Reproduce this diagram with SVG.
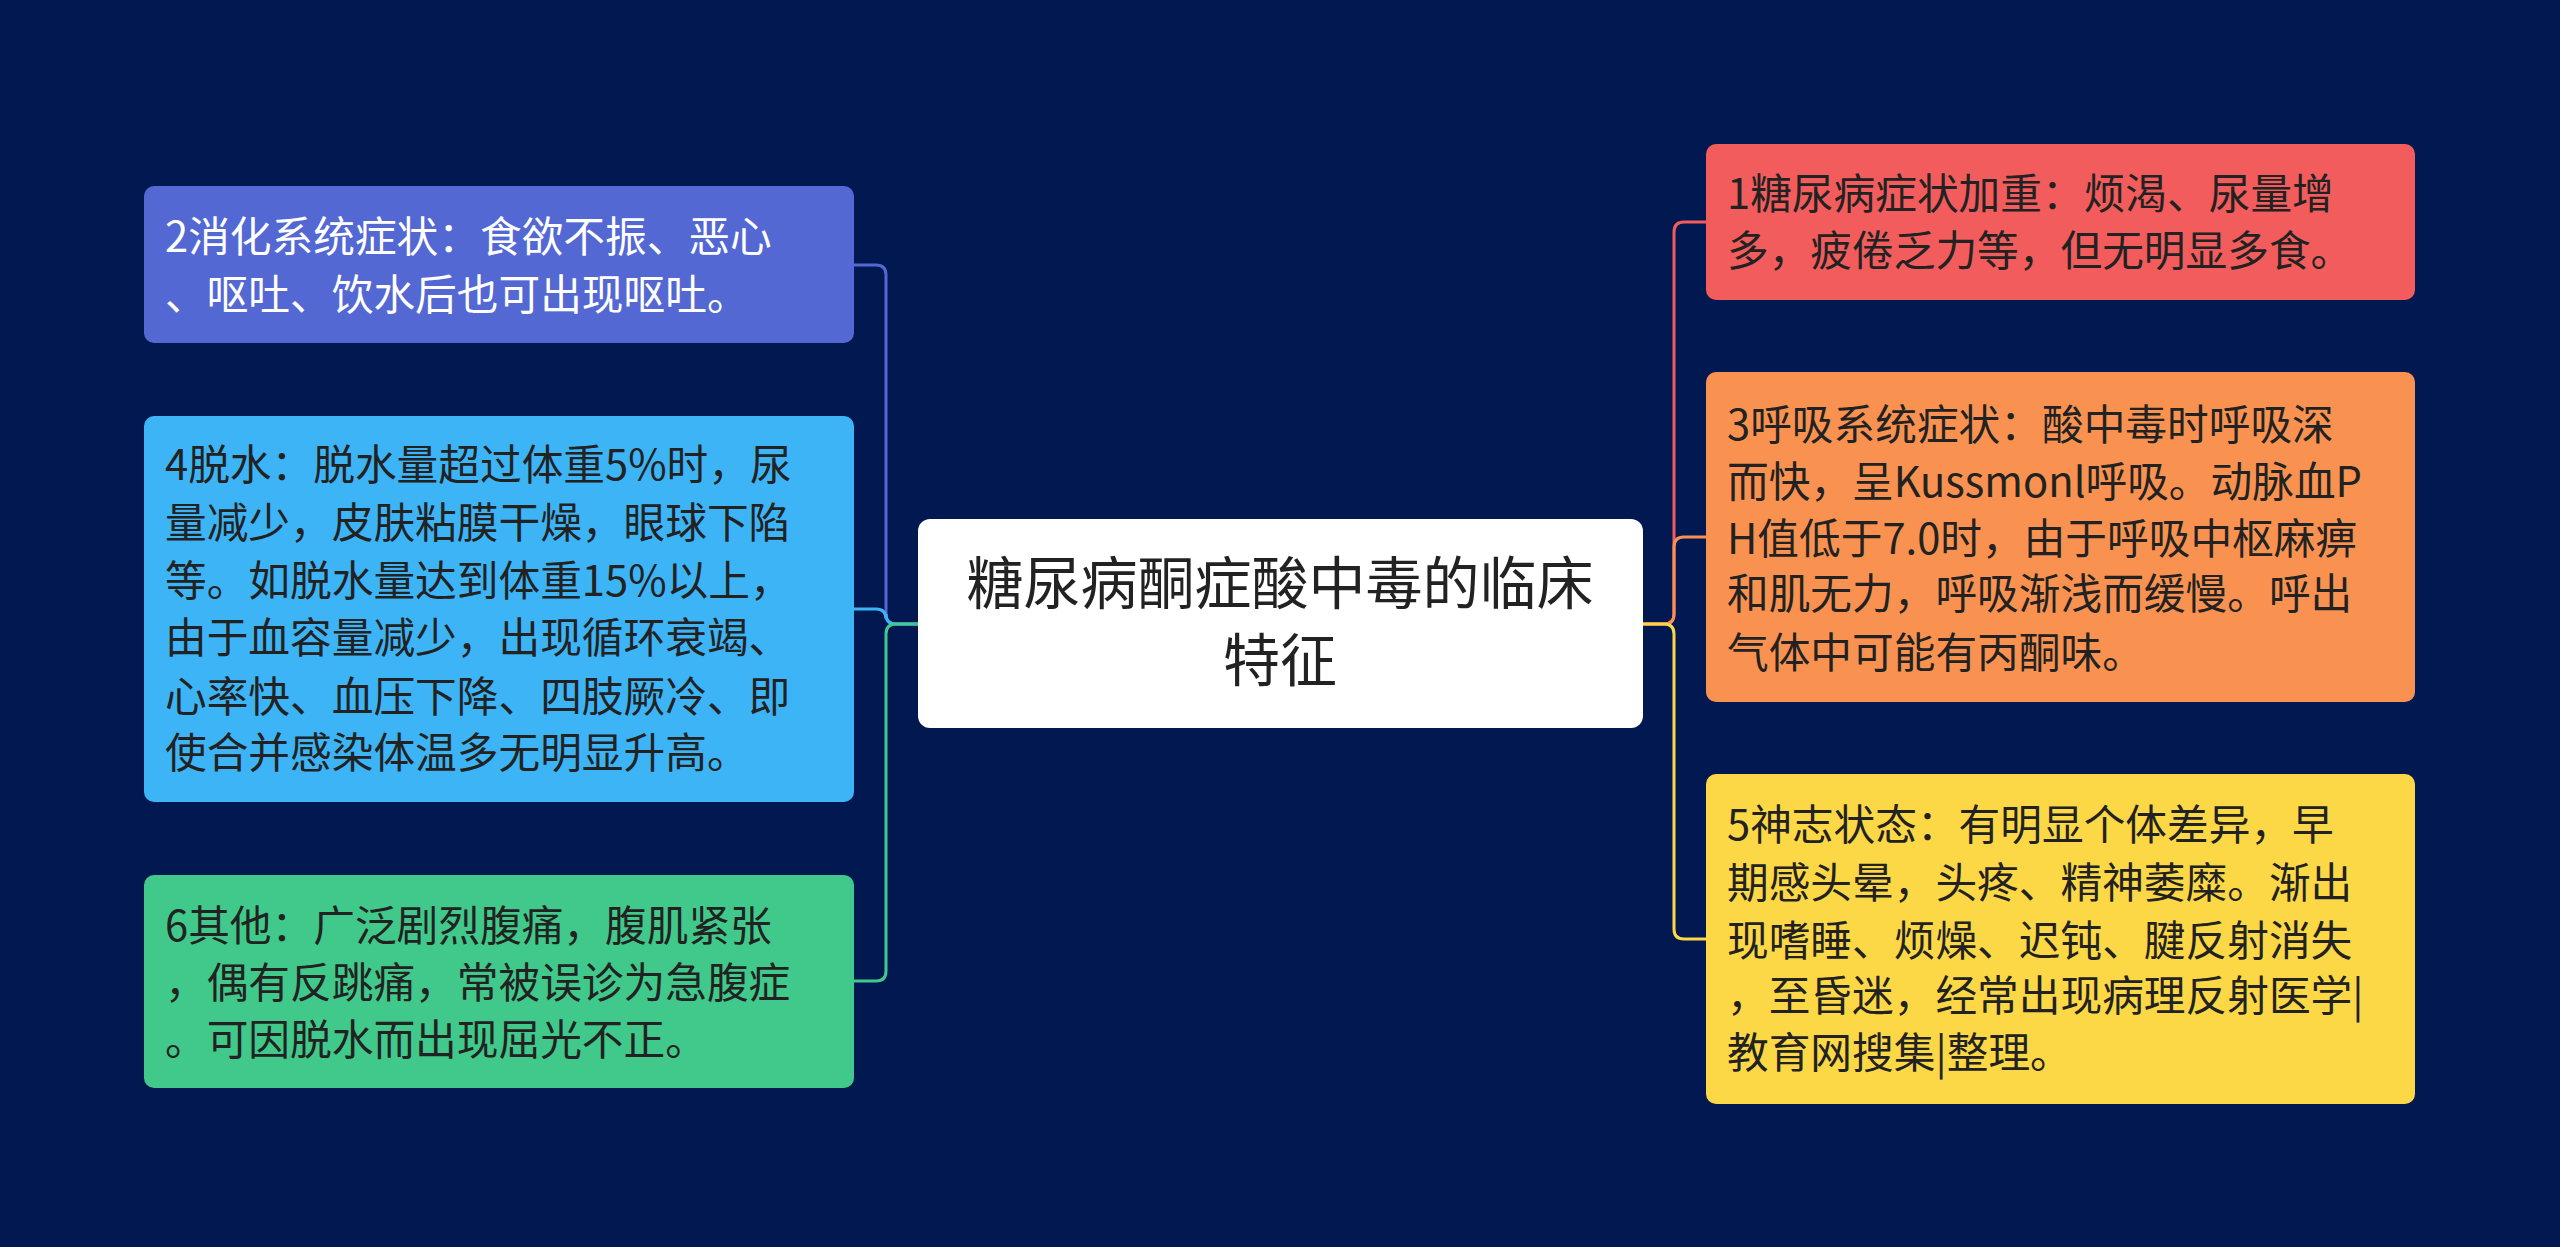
<svg xmlns="http://www.w3.org/2000/svg" width="2560" height="1247" viewBox="0 0 2560 1247">
<style>
text{font-family:"Noto Sans CJK SC","Noto Sans",sans-serif;font-size:41.7px}
.w{fill:#ffffff}.d{fill:#222222}
.c{fill:none;stroke-width:3}
</style>
<rect width="2560" height="1247" fill="#021850"/>
<g id="connectors">
<path class="c" stroke="#5468d4" d="M918 624 H896 Q886 624 886 614 V275 Q886 265 876 265 H854"/>
<path class="c" stroke="#3cb4f5" d="M918 624 H896 Q886 624 886 614 V619 Q886 609 876 609 H854"/>
<path class="c" stroke="#40c98a" d="M918 624 H896 Q886 624 886 634 V971 Q886 981 876 981 H854"/>
<path class="c" stroke="#f25c5c" d="M1643 624 H1664 Q1674 624 1674 614 V232 Q1674 222 1684 222 H1706"/>
<path class="c" stroke="#f99250" d="M1643 624 H1664 Q1674 624 1674 614 V547 Q1674 537 1684 537 H1706"/>
<path class="c" stroke="#fcd846" d="M1643 624 H1664 Q1674 624 1674 634 V929 Q1674 939 1684 939 H1706"/>
</g>
<g id="center">
<rect x="918" y="519" width="725" height="209" rx="12" fill="#ffffff"/>
<text x="1280" y="604" text-anchor="middle" style="font-size:57px" fill="#222">糖尿病酮症酸中毒的临床</text>
<text x="1280" y="681" text-anchor="middle" style="font-size:57px" fill="#222">特征</text>
</g>
<g id="n2">
<rect x="144" y="186" width="710" height="157" rx="10" fill="#5468d4"/>
<text class="w" x="165" y="252">2消化系统症状：食欲不振、恶心</text>
<text class="w" x="165" y="310">、呕吐、饮水后也可出现呕吐。</text>
</g>
<g id="n4">
<rect x="144" y="416" width="710" height="386" rx="10" fill="#3cb4f5"/>
<text class="d" x="165" y="480">4脱水：脱水量超过体重5%时，尿</text>
<text class="d" x="165" y="538">量减少，皮肤粘膜干燥，眼球下陷</text>
<text class="d" x="165" y="596">等。如脱水量达到体重15%以上，</text>
<text class="d" x="165" y="653">由于血容量减少，出现循环衰竭、</text>
<text class="d" x="165" y="712">心率快、血压下降、四肢厥冷、即</text>
<text class="d" x="165" y="768">使合并感染体温多无明显升高。</text>
</g>
<g id="n6">
<rect x="144" y="875" width="710" height="213" rx="10" fill="#40c98a"/>
<text class="d" x="165" y="941">6其他：广泛剧烈腹痛，腹肌紧张</text>
<text class="d" x="165" y="998">，偶有反跳痛，常被误诊为急腹症</text>
<text class="d" x="165" y="1055">。可因脱水而出现屈光不正。</text>
</g>
<g id="n1">
<rect x="1706" y="144" width="709" height="156" rx="10" fill="#f25c5c"/>
<text class="d" x="1727" y="209">1糖尿病症状加重：烦渴、尿量增</text>
<text class="d" x="1727" y="266">多，疲倦乏力等，但无明显多食。</text>
</g>
<g id="n3">
<rect x="1706" y="372" width="709" height="330" rx="10" fill="#f99250"/>
<text class="d" x="1727" y="440">3呼吸系统症状：酸中毒时呼吸深</text>
<text class="d" x="1727" y="497">而快，呈Kussmonl呼吸。动脉血P</text>
<text class="d" x="1727" y="554">H值低于7.0时，由于呼吸中枢麻痹</text>
<text class="d" x="1727" y="609">和肌无力，呼吸渐浅而缓慢。呼出</text>
<text class="d" x="1727" y="668">气体中可能有丙酮味。</text>
</g>
<g id="n5">
<rect x="1706" y="774" width="709" height="330" rx="10" fill="#fcd846"/>
<text class="d" x="1727" y="840">5神志状态：有明显个体差异，早</text>
<text class="d" x="1727" y="898">期感头晕，头疼、精神萎糜。渐出</text>
<text class="d" x="1727" y="956">现嗜睡、烦燥、迟钝、腱反射消失</text>
<text class="d" x="1727" y="1011">，至昏迷，经常出现病理反射医学|</text>
<text class="d" x="1727" y="1068">教育网搜集|整理。</text>
</g>
</svg>
